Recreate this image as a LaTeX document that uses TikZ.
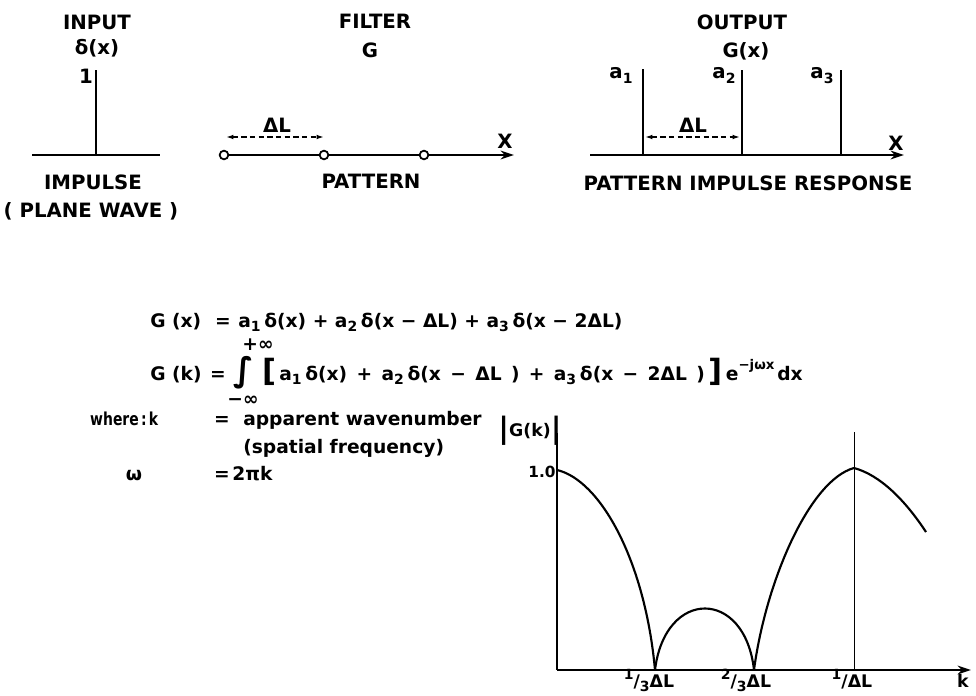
\documentclass[tikz,border=0pt]{standalone}
\usepackage{fontspec}
\setmainfont{DejaVu Sans}
\usetikzlibrary{arrows.meta}
\newcommand\lo[1]{\raisebox{-0.45ex}{\fontsize{10.5}{10}\selectfont #1}}
\newcommand\hiup[1]{\raisebox{0.75ex}{\fontsize{10.5}{10}\selectfont #1}}
\newcommand\eqf{\fontsize{14}{16}\selectfont}
\newcommand\ad{\hspace{0.2em}}
\begin{document}
\begin{tikzpicture}[x=0.75pt,y=-0.75pt,
  font=\bfseries\fontsize{14.8}{17}\selectfont,
  lab/.style={inner sep=0pt,anchor=base},
  labw/.style={inner sep=0pt,anchor=base west},
  ln/.style={line width=2.2pt},
  axarrow/.style={-{Stealth[length=10pt,width=6.5pt]}},
  dim/.style={line width=1.1pt,dash pattern=on 4pt off 2.5pt,{Latex[length=5.5pt,width=3.5pt]}-{Latex[length=5.5pt,width=3.5pt]}},
  dot/.style={circle,draw,line width=1.3pt,fill=white,inner sep=0pt,minimum size=6.5pt},
  curve/.style={line width=1.6pt,line join=round}]
\useasboundingbox (0,0) rectangle (976,696);

% ---------- INPUT ----------
\coordinate (inL) at (32,155);
\coordinate (inR) at (160,155);
\coordinate (inB) at (96,155);
\coordinate (inT) at (96,70);
\draw[ln] (inL) -- (inR);
\draw[ln] (inB) -- (inT);
\node[lab] (input) at (97,30) {INPUT};
\node[lab] (delta) at (97,55) {δ(x)};
\node[lab] (one) at (86,83) {1};
\node[lab] (impulse) at (93,189) {IMPULSE};
\node[lab] (plane) at (91,217) {( PLANE WAVE )};

% ---------- FILTER ----------
\coordinate (fend) at (514,155);
\coordinate (f1) at (224,155);
\draw[ln,axarrow] (f1) -- (fend);
\node[dot] (c1) at (224,155) {};
\node[dot] (c2) at (324,155) {};
\node[dot] (c3) at (424,155) {};
\coordinate (fd1) at (226,137);
\coordinate (fd2) at (324,137);
\draw[dim] (fd1) -- (fd2);
\node[lab] (fdl) at (277,132) {ΔL};
\node[lab] (fx) at (505,148) {X};
\node[lab] (filter) at (375,28) {FILTER};
\node[lab] (g) at (370,57) {G};
\node[lab] (pattern) at (371,188) {PATTERN};

% ---------- OUTPUT ----------
\coordinate (oL) at (590,155);
\coordinate (oR) at (904,155);
\draw[ln,axarrow] (oL) -- (oR);
\coordinate (s1b) at (643,155); \coordinate (s1t) at (643,69);
\coordinate (s2b) at (742,155); \coordinate (s2t) at (742,70);
\coordinate (s3b) at (841,155); \coordinate (s3t) at (841,70);
\draw[ln] (s1b) -- (s1t);
\draw[ln] (s2b) -- (s2t);
\draw[ln] (s3b) -- (s3t);
\node[lab] (a1) at (621,79) {a\lo{1}};
\node[lab] (a2) at (724,79) {a\lo{2}};
\node[lab] (a3) at (822,79) {a\lo{3}};
\coordinate (od1) at (645,137);
\coordinate (od2) at (740,137);
\draw[dim] (od1) -- (od2);
\node[lab] (odl) at (693,132) {ΔL};
\node[lab] (ox) at (896,150) {X};
\node[lab] (output) at (742,30) {OUTPUT};
\node[lab] (gx) at (746,57) {G(x)};
\node[lab] (pir) at (748,190) {PATTERN IMPULSE RESPONSE};

% ---------- EQUATIONS ----------
\node[labw,font=\bfseries\eqf] (eq1a) at (150,327) {G (x)};
\node[lab,font=\bfseries\eqf] (eq1e) at (223,327) {=};
\node[labw,font=\bfseries\eqf] (eq1) at (238,327)
  {a\lo{1}\ad δ(x) + a\lo{2}\ad δ(x − ΔL) + a\lo{3}\ad δ(x − 2ΔL)};
\node[labw,font=\bfseries\eqf] (eq2a) at (150,380) {G (k)};
\node[lab,font=\bfseries\eqf] (eq2e) at (218,380) {=};
\node[inner sep=0pt,font=\bfseries\fontsize{25}{25}\selectfont] (int) at (244,373) {∫};
\node[inner sep=0pt,font=\bfseries\eqf] (pinf) at (258,345) {+∞};
\node[inner sep=0pt,font=\bfseries\eqf] (minf) at (243,401) {−∞};
\node[inner sep=0pt,font=\bfseries\fontsize{23}{23}\selectfont] (lbr) at (270,372) {[};
\node[labw,font=\bfseries\eqf] (eq2b) at (279,380)
  {\spaceskip=0.5em a\lo{1}\ad δ(x) + a\lo{2}\ad δ(x − ΔL ) + a\lo{3}\ad δ(x − 2ΔL )};
\node[inner sep=0pt,font=\bfseries\fontsize{23}{23}\selectfont,anchor=west] (rbr) at ([xshift=2pt]eq2b.east |- lbr) {]};
\node[labw,font=\bfseries\eqf] (eexp) at ([xshift=2.5pt]rbr.east |- eq2b.base)
  {e\raisebox{1ex}{\fontsize{10}{10}\selectfont −jωx}\hspace{0.15em}dx};

\node[labw,font=\bfseries\fontsize{13.4}{14}\selectfont,xscale=0.78] (where) at (90,425) {where\,:\,k};
\node[lab,font=\bfseries\eqf] (eqs1) at (222,425) {=};
\node[labw,font=\bfseries\eqf] (app) at (243,425) {apparent wavenumber};
\node[labw,font=\bfseries\eqf] (spat) at (243,453) {(spatial frequency)};
\node[lab,font=\bfseries\eqf] (omega) at (134,480) {ω};
\node[lab,font=\bfseries\eqf] (eqs2) at (222,480) {=};
\node[labw,font=\bfseries\eqf] (twopik) at (232,480) {2πk};

% ---------- GRAPH ----------
\coordinate (O) at (557,670);
\coordinate (ytop) at (557,433);
\coordinate (xend) at (971,670);
\coordinate (vb) at (854,670);
\coordinate (vt) at (854,432);
\coordinate (z1) at (655,670);
\coordinate (z2) at (754,670);
\coordinate (p0) at (557,470);
\coordinate (p1) at (854,468);
\coordinate (pend) at (926,532);
\draw[line width=2pt] (ytop) -- (O);
\draw[line width=2pt,axarrow] (O) -- (xend);
\draw[line width=0.7pt] (vb) -- (vt);
\draw[curve] (p0) .. controls (600,480) and (645,560) .. (z1);
\draw[curve] (z1) .. controls (665,588) and (745,588) .. (z2);
\draw[curve] (z2) .. controls (766,580) and (810,480) .. (p1);
\draw[curve] (p1) .. controls (880,475) and (905,500) .. (pend);

\node[lab,font=\bfseries\fontsize{13}{14}\selectfont] (gk) at (530,436)
  {\raisebox{-0.25ex}{\fontsize{22}{22}\selectfont|}G(k)\raisebox{-0.25ex}{\fontsize{22}{22}\selectfont|}};
\node[lab,font=\bfseries\fontsize{11.5}{14}\selectfont] (onezero) at (542,477) {1.0};
\node[lab,font=\bfseries\fontsize{13}{15}\selectfont] (t1) at (649,687) {\hiup{1}/\lo{3}ΔL};
\node[lab,font=\bfseries\fontsize{13}{15}\selectfont] (t2) at (746,687) {\hiup{2}/\lo{3}ΔL};
\node[lab,font=\bfseries\fontsize{13}{15}\selectfont] (t3) at (852,687) {\hiup{1}/ΔL};
\node[lab,font=\bfseries\fontsize{13}{15}\selectfont] (kk) at (963,687) {k};
\end{tikzpicture}
\end{document}
